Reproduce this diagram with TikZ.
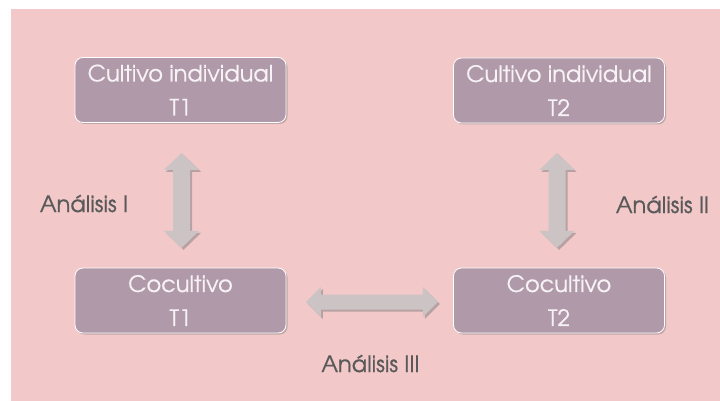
\documentclass[tikz,border=0pt]{standalone}
\usepackage{fontspec}
\setmainfont[FakeBold=0.6]{TeX Gyre Adventor}
\usetikzlibrary{shadows,calc}

\definecolor{pagebg}{HTML}{F2C8C9}
\definecolor{boxfill}{HTML}{B099A9}
\definecolor{boxtext}{HTML}{F7F2F5}
\definecolor{arrowfill}{HTML}{CCC4C4}
\definecolor{labelgray}{HTML}{595959}

\tikzset{
  stagebox/.style={
    rectangle, rounded corners=8pt, fill=boxfill, draw=white, line width=0.8pt,
    minimum width=211pt, minimum height=65pt, align=center,
    text=boxtext, font=\fontsize{22.5}{34}\selectfont, inner sep=0pt,
    drop shadow={shadow xshift=1.5pt, shadow yshift=-1.5pt, opacity=0.35, fill=black!60}
  },
  steplabel/.style={text=labelgray, font=\fontsize{22.5}{24}\selectfont, inner sep=0pt, anchor=base},
  blockarrow/.style={fill=arrowfill,
    drop shadow={shadow xshift=2pt, shadow yshift=-2pt, opacity=0.45, fill=black!55}},
}

\begin{document}
\begin{tikzpicture}[x=1pt,y=-1pt]
\useasboundingbox (0,0) rectangle (720,401);
\fill[pagebg] (11,9) rectangle (720,401);

% stage boxes
\node[stagebox] (ind1) at (180.5,90) {Cultivo individual\\T1};
\node[stagebox] (ind2) at (559,90.5) {Cultivo individual\\T2};
\node[stagebox] (co1) at (180.5,300.5) {Cocultivo\\T1};
\node[stagebox] (co2) at (559,300.5) {Cocultivo\\T2};

% block double arrows between the stages
\coordinate (a1) at ($(ind1.south)+(1,77.5)$);
\coordinate (a2) at ($(ind2.south)+(-2,77)$);
\coordinate (a3) at ($(co1.east)!0.5!(co2.west)+(2,1.5)$);

\fill[blockarrow] (a1) ++(0,-47.5) -- ++(17.5,17) -- ++(-9,0) -- ++(0,61) -- ++(9,0)
  -- ++(-17.5,17) -- ++(-17.5,-17) -- ++(9,0) -- ++(0,-61) -- ++(-9,0) -- cycle;
\fill[blockarrow] (a2) ++(0,-47.5) -- ++(17.5,17) -- ++(-9,0) -- ++(0,61) -- ++(9,0)
  -- ++(-17.5,17) -- ++(-17.5,-17) -- ++(9,0) -- ++(0,-61) -- ++(-9,0) -- cycle;
\fill[blockarrow] (a3) ++(-66,0) -- ++(15,-15) -- ++(0,7.5) -- ++(102,0) -- ++(0,-7.5)
  -- ++(15,15) -- ++(-15,15) -- ++(0,-7.5) -- ++(-102,0) -- ++(0,7.5) -- cycle;

% analysis labels
\node[steplabel] (l1) at (84,212) {Análisis I};
\node[steplabel] (l2) at (662.5,213) {Análisis II};
\node[steplabel] (l3) at (370.5,372) {Análisis III};
\end{tikzpicture}
\end{document}
